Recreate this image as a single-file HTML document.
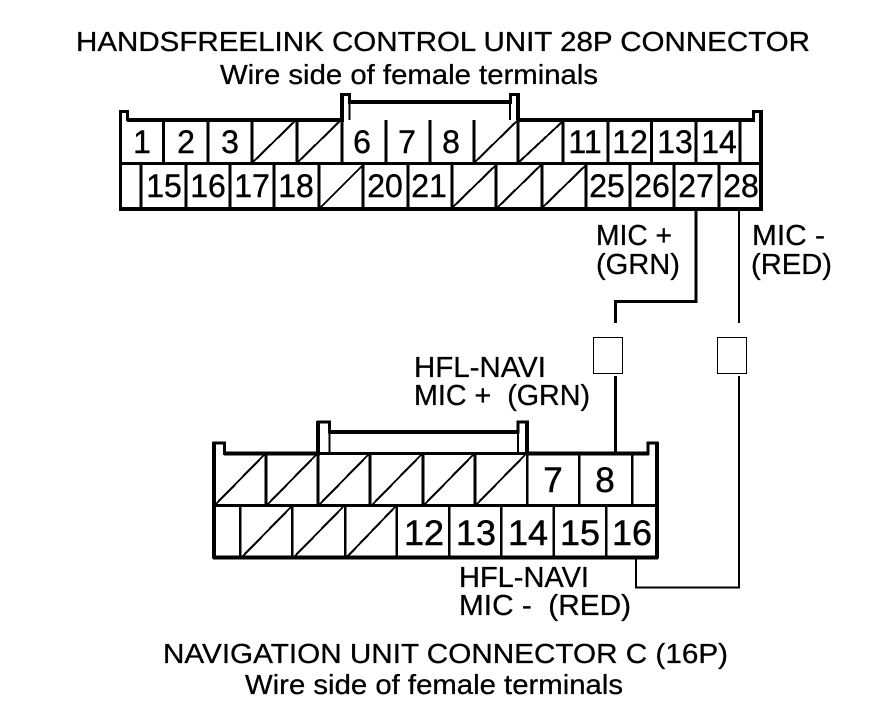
<!DOCTYPE html>
<html><head><meta charset="utf-8"><style>
html,body{margin:0;padding:0;background:#fff;width:880px;height:728px;overflow:hidden}
svg{display:block}
text{font-family:"Liberation Sans",Arial,sans-serif;fill:#000;stroke:#000;stroke-width:.3px}
.h{font-size:28px}
.l{font-size:29px}
.d{font-size:32px;text-anchor:middle;stroke-width:.4px}
.e{font-size:35px;text-anchor:middle;stroke-width:.5px}
</style></head><body>
<svg width="880" height="728" viewBox="0 0 880 728" xmlns="http://www.w3.org/2000/svg">
<rect width="880" height="728" fill="#fff"/>
<g fill="none" stroke="#000" stroke-linecap="butt" stroke-linejoin="miter" shape-rendering="crispEdges">
<!-- top connector outline -->
<path stroke-width="3" d="M120.500 208.500V111.500H127.500V119.500H342.500V94.500H349.500V102.500H510.500V94.500H518.500V119.500H753.500V111.500H761.500V208.500Z"/>
<path stroke-width="4" d="M119 209H763M127 120H344M517 120H755M349 102H511M761 110V209M342 93V120M518 93V120"/>
<path stroke-width="2" d="M349.500 102V120M510 102V120"/>
<path stroke-width="3" d="M120 163.500H762"/>
<path stroke-width="3" d="M163.500 120V163M208 120V163M252 120V163M297 120V163M342 120V163M386 120V163M430 120V163M474 120V163M518 120V163M563 120V163M608 120V163M651.500 120V163M696 120V163M740 120V163"/>
<path stroke-width="3" d="M141 164V208M186 164V208M230 164V208M274 164V208M319 164V208M363 164V208M408 164V208M452 164V208M496 164V208M542 164V208M586 164V208M630 164V208M674 164V208M719 164V208"/>
<path stroke-width="2" d="M252 163L296 120M297 163L341 120M474 163L518 120M518 163L562 122M320 208L363 165M452 208L496 165M497 208L541 165M542 208L586 165"/>
<!-- wires -->
<path stroke-width="3" d="M696 208V301.500H615.500V323"/>
<path stroke-width="2" d="M739 208V323"/>
<path stroke-width="3" d="M615.500 376V453"/>
<path stroke-width="2" d="M739 376V587.500H636V558"/>
<rect x="593.500" y="337.500" width="29" height="36" stroke-width="1"/>
<rect x="717.500" y="337.500" width="29" height="36" stroke-width="1"/>
<!-- lower connector outline -->
<path stroke-width="3" d="M214 557.500V443H224.500V453.500H318.500V422H329.500V432H518V422H527.500V453.500H648V443H657V557.500Z"/>
<path stroke-width="4" d="M213 557.500H658M224 453.500H320M527 453.500H649M329 432H518M214 442V558M657 442V558M318 421V454M527 421V454"/>
<path stroke-width="2" d="M329.500 432V454M518 432V454"/>
<path stroke-width="3" d="M214 505.500H657M320 453.500H527"/>
<path stroke-width="3" d="M266 454V505M318 454V505M370 454V505M423 454V505M475 454V505"/>
<path stroke-width="2.500" d="M527 454V505M579 454V505M632 454V505"/>
<path stroke-width="2.500" d="M240 506V557M292 506V557M345 506V557M396.500 506V557M449 506V557M501 506V557M553.500 506V557M606 506V557"/>
<path stroke-width="2" d="M215 505L264 455M267 505L316 455M319 505L368 455M372 505L421 455M424 505L473 455M476 505L525 455M241 558L291 507M293 558L343 507M346 558L395 507"/>
</g>
<text class="h" x="76" y="51" textLength="734" lengthAdjust="spacingAndGlyphs">HANDSFREELINK CONTROL UNIT 28P CONNECTOR</text>
<text class="h" x="220" y="84" textLength="378" lengthAdjust="spacingAndGlyphs">Wire side of female terminals</text>
<text class="d" x="142" y="153">1</text><text class="d" x="186" y="153">2</text><text class="d" x="230" y="153">3</text>
<text class="d" x="362" y="153">6</text><text class="d" x="407" y="153">7</text><text class="d" x="451" y="153">8</text>
<text class="d" x="585" y="153">11</text><text class="d" x="630" y="153">12</text><text class="d" x="675" y="153">13</text><text class="d" x="719" y="153">14</text>
<text class="d" x="164" y="197">15</text><text class="d" x="208" y="197">16</text><text class="d" x="252" y="197">17</text><text class="d" x="296" y="197">18</text>
<text class="d" x="385" y="197">20</text><text class="d" x="429" y="197">21</text>
<text class="d" x="607" y="197">25</text><text class="d" x="652" y="197">26</text><text class="d" x="696" y="197">27</text><text class="d" x="741" y="197">28</text>
<text class="l" x="596" y="245" textLength="76" lengthAdjust="spacingAndGlyphs">MIC +</text>
<text class="l" x="596" y="274" textLength="84" lengthAdjust="spacingAndGlyphs">(GRN)</text>
<text class="l" x="752" y="245" textLength="73" lengthAdjust="spacingAndGlyphs">MIC -</text>
<text class="l" x="751" y="274" textLength="81" lengthAdjust="spacingAndGlyphs">(RED)</text>
<text class="l" x="414" y="377" textLength="132" lengthAdjust="spacingAndGlyphs">HFL-NAVI</text>
<text class="l" x="414" y="405" xml:space="preserve" textLength="176" lengthAdjust="spacingAndGlyphs">MIC +  (GRN)</text>
<text class="e" x="553" y="492">7</text><text class="e" x="605" y="492">8</text>
<text class="e" x="424" y="545" textLength="40" lengthAdjust="spacingAndGlyphs">12</text><text class="e" x="476" y="545" textLength="40" lengthAdjust="spacingAndGlyphs">13</text><text class="e" x="528" y="545" textLength="40" lengthAdjust="spacingAndGlyphs">14</text><text class="e" x="580" y="545" textLength="40" lengthAdjust="spacingAndGlyphs">15</text><text class="e" x="632" y="545" textLength="40" lengthAdjust="spacingAndGlyphs">16</text>
<text class="l" x="459" y="587" textLength="130" lengthAdjust="spacingAndGlyphs">HFL-NAVI</text>
<text class="l" x="459" y="615" xml:space="preserve" textLength="172" lengthAdjust="spacingAndGlyphs">MIC -  (RED)</text>
<text class="h" x="163" y="663" textLength="565" lengthAdjust="spacingAndGlyphs">NAVIGATION UNIT CONNECTOR C (16P)</text>
<text class="h" x="245" y="694" textLength="378" lengthAdjust="spacingAndGlyphs">Wire side of female terminals</text>
</svg>
</body></html>
